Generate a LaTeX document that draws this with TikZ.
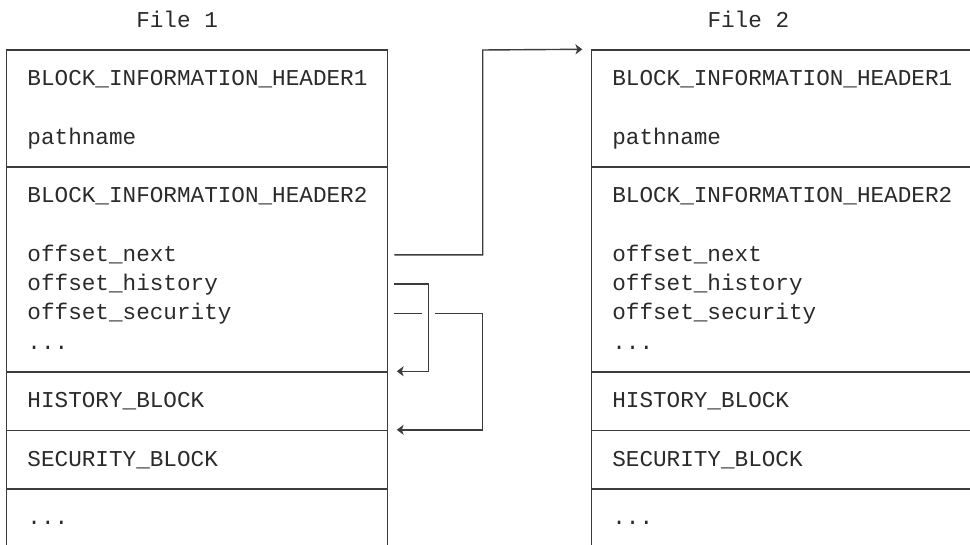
\documentclass[tikz,border=0pt]{standalone}
\usepackage{fontspec}
\setmonofont{Liberation Mono}
\usetikzlibrary{arrows.meta, fit}

\definecolor{linegray}{HTML}{3C3C3C}
\definecolor{textgray}{HTML}{2A2A2A}

\begin{document}
\begin{tikzpicture}[
x=6.8pt, y=-14.635pt,
part/.style={draw=linegray, line width=0.7pt, rectangle, inner sep=0pt},
entry/.style={anchor=west, inner sep=0pt, text height=6.4pt, text depth=0pt,
  font=\fontsize{11.33pt}{14pt}\ttfamily, text=textgray},
wire/.style={draw=linegray, line width=0.7pt},
arrow/.style={wire, -{Stealth[length=3.4pt, width=5pt, inset=0.9pt]}}
]
\clip (-0.4926,-1.708) rectangle (70.83,16.911);

% File 1
\node[entry] (title1) at (9.5,-1) {File 1};
\node[part, fit={(0,0) (28,4)}] (top1) {};
\node[part, fit={(0,4) (28,11)}] (main1) {};
\node[part, fit={(0,11) (28,13)}] (hist1) {};
\node[part, fit={(0,13) (28,15)}] (sec1) {};
\node[part, fit={(0,15) (28,18)}] (tail1) {};

\node[entry] (hdra1) at (1.5,1) {BLOCK\_INFORMATION\_HEADER1};
\node[entry] (path1) at (1.5,3) {pathname};
\node[entry] (hdrb1) at (1.5,5) {BLOCK\_INFORMATION\_HEADER2};
\node[entry] (next1) at (1.5,7) {offset\_next};
\node[entry] (history1) at (1.5,8) {offset\_history};
\node[entry] (security1) at (1.5,9) {offset\_security};
\node[entry] (etc1) at (1.5,10) {...};
\node[entry] (histtxt1) at (1.5,12) {HISTORY\_BLOCK};
\node[entry] (sectxt1) at (1.5,14) {SECURITY\_BLOCK};
\node[entry] (more1) at (1.5,16) {...};

% File 2
\node[entry] (title2) at (51.5,-1) {File 2};
\node[part, fit={(43,0) (71,4)}] (top2) {};
\node[part, fit={(43,4) (71,11)}] (main2) {};
\node[part, fit={(43,11) (71,13)}] (hist2) {};
\node[part, fit={(43,13) (71,15)}] (sec2) {};
\node[part, fit={(43,15) (71,18)}] (tail2) {};

\node[entry] (hdra2) at (44.5,1) {BLOCK\_INFORMATION\_HEADER1};
\node[entry] (path2) at (44.5,3) {pathname};
\node[entry] (hdrb2) at (44.5,5) {BLOCK\_INFORMATION\_HEADER2};
\node[entry] (next2) at (44.5,7) {offset\_next};
\node[entry] (history2) at (44.5,8) {offset\_history};
\node[entry] (security2) at (44.5,9) {offset\_security};
\node[entry] (etc2) at (44.5,10) {...};
\node[entry] (histtxt2) at (44.5,12) {HISTORY\_BLOCK};
\node[entry] (sectxt2) at (44.5,14) {SECURITY\_BLOCK};
\node[entry] (more2) at (44.5,16) {...};

% offset links
\coordinate (out) at (28.5,0);
\coordinate (railin) at (31,0);
\coordinate (railout) at (35,0);

\draw[arrow] (next1 -| out) -| (railout) -- ([xshift=-4.25pt]top2.north west);
\draw[arrow] (history1 -| out) -- (history1 -| railin) |- ([xshift=4.3pt]hist1.north east);
\draw[wire] (security1 -| out) -- ([xshift=-3.4pt]security1 -| railin);
\draw[arrow] ([xshift=3.4pt]security1 -| railin) -- (security1 -| railout) |- ([xshift=4.3pt]sec1.north east);

\end{tikzpicture}
\end{document}
